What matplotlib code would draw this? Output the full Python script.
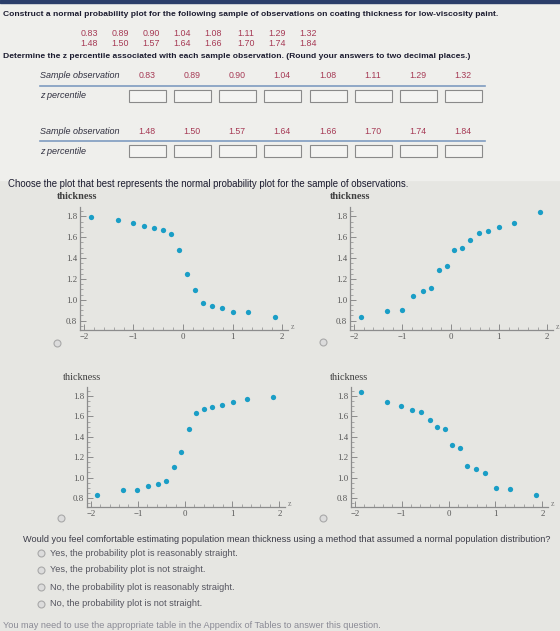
import matplotlib.pyplot as plt
from matplotlib.lines import Line2D
from matplotlib.patches import Rectangle
from matplotlib.ticker import MultipleLocator

# sample data
observations = [0.83, 0.89, 0.90, 1.04, 1.08, 1.11, 1.29, 1.32,
                1.48, 1.50, 1.57, 1.64, 1.66, 1.70, 1.74, 1.84]
z_scores = [-1.86, -1.32, -1.01, -0.78, -0.58, -0.40, -0.24, -0.08,
            0.08, 0.24, 0.40, 0.58, 0.78, 1.01, 1.32, 1.86]

# thickness values shown in the four candidate plots
thick_a = [1.79, 1.77, 1.74, 1.71, 1.69, 1.67, 1.63, 1.48,
           1.25, 1.09, 0.97, 0.94, 0.92, 0.88, 0.88, 0.83]
thick_b = observations
thick_c = [0.83, 0.88, 0.88, 0.92, 0.94, 0.97, 1.10, 1.25,
           1.48, 1.63, 1.67, 1.69, 1.71, 1.74, 1.77, 1.79]
thick_d = [1.84, 1.74, 1.70, 1.66, 1.64, 1.57, 1.50, 1.48,
           1.32, 1.29, 1.11, 1.08, 1.04, 0.90, 0.89, 0.83]

options = ["Yes, the probability plot is reasonably straight.",
           "Yes, the probability plot is not straight.",
           "No, the probability plot is reasonably straight.",
           "No, the probability plot is not straight."]

W, H = 560, 631
fig = plt.figure(figsize=(W / 100, H / 100), dpi=100, facecolor="#e6e6e2")

SANS = "Liberation Sans"
SERIF = "Liberation Serif"
DARK = "#1c1c30"
RED = "#a63a55"
DOT = "#1a9ec6"


def fx(x):
    return x / W


def fy(y):
    return 1 - y / H


def text(x, y, s, **kw):
    kw.setdefault("family", SANS)
    kw.setdefault("va", "center")
    fig.text(fx(x), fy(y), s, **kw)


def hline(x0, x1, y, color, lw=1.0):
    fig.add_artist(Line2D([fx(x0), fx(x1)], [fy(y), fy(y)], color=color,
                          lw=lw, transform=fig.transFigure))


def box(x0, x1, y0, y1):
    fig.add_artist(Rectangle((fx(x0), fy(y1)), fx(x1) - fx(x0), fy(y0) - fy(y1),
                             transform=fig.transFigure, facecolor="#f4f4f2",
                             edgecolor="#8a8a8a", lw=0.8))


def radio(x, y):
    fig.add_artist(Line2D([fx(x)], [fy(y)], marker="o", ms=5, mfc="#dcdcdc",
                          mec="#a8a8a8", mew=0.8, transform=fig.transFigure))


# top bar and header area
fig.add_artist(Rectangle((0, fy(3)), 1, 3 / H, transform=fig.transFigure,
                         color="#2b3e6a"))
fig.add_artist(Rectangle((0, fy(180)), 1, 177 / H, transform=fig.transFigure,
                         color="#efefec", zorder=-1))

text(3, 15, "Construct a normal probability plot for the following sample of "
     "observations on coating thickness for low-viscosity paint.",
     size=6.1, color=DARK, weight="bold")
cols = [89, 120, 151, 182, 213, 246, 277, 308]
for i in range(8):
    text(cols[i], 33, f"{observations[i]:.2f}", size=6.4, color=RED, ha="center")
    text(cols[i], 44, f"{observations[i + 8]:.2f}", size=6.4, color=RED, ha="center")
text(3, 56, "Determine the z percentile associated with each sample observation. "
     "(Round your answers to two decimal places.)",
     size=6.1, color=DARK, weight="bold")

# answer tables
table_x = [147, 192, 237, 282, 328, 373, 418, 463]
for row, (ty, vals) in enumerate([(76, observations[:8]), (131, observations[8:])]):
    text(40, ty, "Sample observation", size=6.5, color="#303040", style="italic")
    for xc, v in zip(table_x, vals):
        text(xc, ty, f"{v:.2f}", size=6.3, color=RED, ha="center")
    hline(40, 485, ty + 10, "#7f9cc0", lw=1.2)
    text(40, ty + 20, "z percentile", size=6.5, color="#303040", style="italic")
    for xc in table_x:
        box(xc - 18, xc + 19, ty + 14, ty + 26)

text(8, 184, "Choose the plot that best represents the normal probability plot "
     "for the sample of observations.", size=6.9, color=DARK)

# the four candidate normal probability plots
panels = [
    ((80, 288, 207, 330), thick_a, True, (57, 343), (57, 196)),
    ((350, 553, 207, 330), thick_b, True, (323, 342), (330, 196)),
    ((87, 285, 387, 507), thick_c, False, (61, 518), (63, 378)),
    ((351, 548, 387, 507), thick_d, False, (323, 518), (330, 378)),
]
for (l, r, t, b), yvals, bold_label, rad, lab_xy in panels:
    ax = fig.add_axes([fx(l), fy(b), fx(r) - fx(l), fy(t) - fy(b)])
    ax.set_facecolor("none")
    ax.plot(z_scores, yvals, "o", color=DOT, ms=3.8, mec="none", clip_on=False)
    ax.set_xlim(-2.08, 2.12)
    ax.set_ylim(0.71, 1.89)
    ax.xaxis.set_minor_locator(MultipleLocator(0.2))
    ax.yaxis.set_minor_locator(MultipleLocator(0.05))
    ax.set_xticks([-2, -1, 0, 1, 2])
    ax.set_xticklabels(["\u22122", "\u22121", "0", "1", "2"])
    ax.set_yticks([0.8, 1.0, 1.2, 1.4, 1.6, 1.8])
    ax.set_yticklabels(["0.8", "1.0", "1.2", "1.4", "1.6", "1.8"])
    for s in ["top", "right"]:
        ax.spines[s].set_visible(False)
    for s in ["left", "bottom"]:
        ax.spines[s].set_color("#8c8c8c")
        ax.spines[s].set_linewidth(0.9)
    ax.tick_params(which="both", direction="in", colors="#8c8c8c",
                   labelcolor="#555555", labelsize=6.3, pad=2)
    ax.tick_params(which="major", length=4, width=0.7)
    ax.tick_params(which="minor", length=2, width=0.5)
    for lab in ax.get_xticklabels() + ax.get_yticklabels():
        lab.set_family(SERIF)
    text(lab_xy[0], lab_xy[1], "thickness", size=7.4, family=SERIF, color="#404040",
         weight="bold" if bold_label else "normal")
    text(r + 3, b - 3, "z", size=5.5, family=SERIF, color="#777777")
    radio(*rad)

# follow-up question
text(23, 540, "Would you feel comfortable estimating population mean thickness "
     "using a method that assumed a normal population distribution?",
     size=6.6, color="#3c3c48")
for i, opt in enumerate(options):
    yy = 553 + 17 * i
    radio(41, yy)
    text(50, yy, opt, size=6.6, color="#55555f")
text(3, 625, "You may need to use the appropriate table in the Appendix of Tables "
     "to answer this question.", size=6.6, color="#8a8a95")

fig.savefig("out.png", dpi=100, facecolor=fig.get_facecolor())
